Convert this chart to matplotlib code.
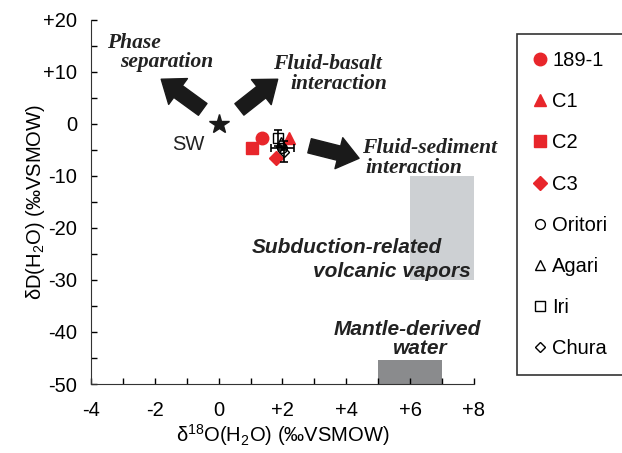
import matplotlib.pyplot as plt
from matplotlib.patches import Rectangle

plt.rcParams['font.family'] = ['Liberation Sans', 'DejaVu Sans']
plt.rcParams['mathtext.fontset'] = 'custom'
plt.rcParams['mathtext.rm'] = 'Liberation Sans'
plt.rcParams['mathtext.it'] = 'Liberation Sans:italic'

# seawater reference
sw = (0.0, 0.0)

# this study (red filled)
red_labels = ['189-1', 'C1', 'C2', 'C3']
red_markers = ['o', '^', 's', 'D']
red_x = [1.35, 2.2, 1.05, 1.8]
red_y = [-2.7, -2.7, -4.6, -6.5]

# other fields (open black, with error bars)
blk_labels = ['Oritori', 'Agari', 'Iri', 'Chura']
blk_markers = ['o', '^', 's', 'D']
blk_x = [2.0, 1.95, 1.85, 2.05]
blk_y = [-4.6, -3.5, -2.7, -5.3]
blk_xerr = [0.35, 0.0, 0.0, 0.0]
blk_yerr = [0.4, 0.0, 1.5, 2.0]

# reference fields: (x0, x1, y0, y1)
volcanic_box = (6, 8, -30, -10)
mantle_box = (5, 7, -50, -45.4)

xticks = [-4, -2, 0, 2, 4, 6, 8]
xticklabels = ['-4', '-2', '0', '+2', '+4', '+6', '+8']
yticks = [20, 10, 0, -10, -20, -30, -40, -50]
yticklabels = ['+20', '+10', '0', '-10', '-20', '-30', '-40', '-50']

fs = 14.5
fig = plt.figure(figsize=(6.22, 4.53), dpi=100)
ax = fig.add_axes([0.1463, 0.1523, 0.762 - 0.1463, 0.956 - 0.1523])

ax.add_patch(Rectangle((volcanic_box[0], volcanic_box[2]), volcanic_box[1] - volcanic_box[0],
                       volcanic_box[3] - volcanic_box[2], color='#cdd0d3', lw=0, zorder=0))
ax.add_patch(Rectangle((mantle_box[0], mantle_box[2]), mantle_box[1] - mantle_box[0],
                       mantle_box[3] - mantle_box[2], color='#8a8b8d', lw=0, zorder=0))

ax.plot(*sw, marker='*', color='#1a1a1a', ms=15, ls='none')
ax.text(-0.95, -3.9, 'SW', fontsize=fs, color='#222222', ha='center', va='center')

handles = []
for lab, m, x, y in zip(red_labels, red_markers, red_x, red_y):
    ms = 9 if m != 'D' else 7
    h, = ax.plot(x, y, marker=m, color='#e8262b', ms=ms, ls='none', label=lab, zorder=3)
    handles.append(h)
for lab, m, x, y, xe, ye in zip(blk_labels, blk_markers, blk_x, blk_y, blk_xerr, blk_yerr):
    ms = 7 if m != 'D' else 5.5
    ax.errorbar(x, y, xerr=xe if xe else None, yerr=ye if ye else None, fmt='none',
                ecolor='black', elinewidth=1.2, capsize=3, capthick=1.2, zorder=4)
    h, = ax.plot(x, y, marker=m, mfc='none', mec='black', mew=1.0, ms=ms, ls='none',
                 label=lab, zorder=5)
    handles.append(h)

arrow = dict(arrowstyle='simple,head_width=2.3,head_length=1.5,tail_width=1.05',
             color='#1a1a1a', mutation_scale=10, shrinkA=0, shrinkB=0)
ax.annotate('', xy=(-1.8, 8.6), xytext=(-0.5, 2.8), arrowprops=arrow)
ax.annotate('', xy=(1.85, 8.6), xytext=(0.65, 2.8), arrowprops=arrow)
ax.annotate('', xy=(4.4, -6.6), xytext=(2.85, -4.2), arrowprops=arrow)

serif = dict(family=['Liberation Serif', 'DejaVu Serif'], style='italic', weight='bold',
             fontsize=15.5, color='#222222', va='center')
ax.text(-3.5, 15.6, 'Phase', **serif)
ax.text(-3.1, 11.9, 'separation', **serif)
ax.text(1.7, 11.6, 'Fluid-basalt', **serif)
ax.text(2.25, 7.7, 'interaction', **serif)
ax.text(4.5, -4.7, 'Fluid-sediment', **serif)
ax.text(4.6, -8.4, 'interaction', **serif)

sans = dict(style='italic', weight='bold', fontsize=15, color='#222222', va='center')
ax.text(7.0, -23.8, 'Subduction-related', ha='right', **sans)
ax.text(7.9, -28.3, 'volcanic vapors', ha='right', **sans)
ax.text(3.6, -39.6, 'Mantle-derived', ha='left', **sans)
ax.text(5.45, -43.1, 'water', ha='left', **sans)

ax.set_xlim(-4, 8)
ax.set_ylim(-50, 20)
ax.set_xticks(xticks)
ax.set_xticklabels(xticklabels)
ax.set_xticks(range(-3, 8, 2), minor=True)
ax.set_yticks(yticks)
ax.set_yticklabels(yticklabels)
ax.set_yticks(range(-45, 20, 10), minor=True)
ax.tick_params(which='both', direction='in', length=4, width=1, labelsize=fs)
ax.tick_params(axis='x', pad=12)
ax.tick_params(axis='y', pad=10)
for s in ['top', 'right']:
    ax.spines[s].set_visible(False)
for s in ['left', 'bottom']:
    ax.spines[s].set_color('#333333')

ax.set_xlabel(r'δ$^{18}$O(H$_2$O) (‰VSMOW)', fontsize=fs, labelpad=2)
ax.set_ylabel(r'δD(H$_2$O) (‰VSMOW)', fontsize=fs, labelpad=-3)

leg = ax.legend(handles=handles, loc='upper left', bbox_to_anchor=(0.831, 0.925),
                bbox_transform=fig.transFigure, frameon=True, fancybox=False,
                edgecolor='black', fontsize=fs, labelspacing=1.1, handlelength=0.6,
                handletextpad=0.3, borderpad=0.85, borderaxespad=0)
leg.get_frame().set_linewidth(1.2)

fig.savefig('out.png', dpi=100)
